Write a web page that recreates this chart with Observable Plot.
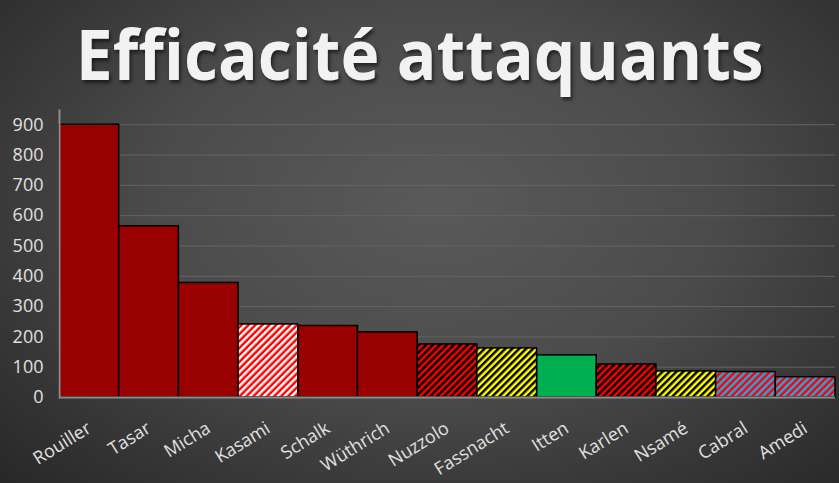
<!DOCTYPE html>
<html><head><meta charset="utf-8">
<script src="https://cdn.jsdelivr.net/npm/d3@7"></script>
<script src="https://cdn.jsdelivr.net/npm/@observablehq/plot@0.6"></script>
<style>
html,body{margin:0;padding:0;background:#2a2a2a;}
#wrap{position:relative;width:839px;height:483px;overflow:hidden;
  background:radial-gradient(ellipse 75% 85% at 52% 42%, #5a5a5a 0%, #4b4b4b 45%, #363636 75%, #262626 100%);
  font-family:"Open Sans",sans-serif;}
#title{position:absolute;left:0;top:11px;width:839px;text-align:center;white-space:nowrap;
  font-family:"Open Sans",sans-serif;font-weight:700;font-size:70px;line-height:1.2;color:#f2f2f2;
  text-shadow:2px 3px 4px rgba(0,0,0,0.55);}
#title span{display:inline-block;transform-origin:50% 50%;}
#chart{position:absolute;left:0;top:0;}
</style></head><body>
<div id="wrap"><div id="chart"></div><div id="title"><span>Efficacité attaquants</span></div></div>
<script>
const players = ["Rouiller","Tasar","Micha","Kasami","Schalk","Wüthrich","Nuzzolo","Fassnacht","Itten","Karlen","Nsamé","Cabral","Amedi"];
const values  = [900, 565, 378, 241, 236, 215, 175, 162, 139, 109, 86, 84, 67];
const fillKinds = ["dark","dark","dark","redWhite","dark","dark","redBlack","yellowBlack","green","redBlack","yellowBlack","redCyan","redCyan"];
const yTicks = [0,100,200,300,400,500,600,700,800,900];

const fillMap = {
  dark: "#990000",
  green: "#00b050",
  redWhite: "url(#pRedWhite)",
  redBlack: "url(#pRedBlack)",
  yellowBlack: "url(#pYellowBlack)",
  redCyan: "url(#pRedCyan)"
};

const data = players.map((name, i) => ({name, value: values[i], kind: fillKinds[i]}));

const barMarks = Object.keys(fillMap).map(k =>
  Plot.barY(data.filter(d => d.kind === k), {x: "name", y: "value", fill: fillMap[k], stroke: "#000", strokeWidth: 1.5})
);

const chart = Plot.plot({
  width: 839,
  height: 483,
  marginLeft: 59,
  marginRight: 4,
  marginTop: 110,
  marginBottom: 86,
  style: {background: "transparent", color: "#e0e0e0", fontFamily: "Open Sans", fontSize: "18px"},
  x: {domain: players, padding: 0, round: false, label: null},
  y: {domain: [0, 947], label: null},
  marks: [
    Plot.gridY(yTicks.filter(t => t > 0), {stroke: "#646464", strokeOpacity: 1, strokeWidth: 1}),
    ...barMarks,
    Plot.ruleY([0], {stroke: "#8c8c8c", strokeWidth: 2}),
    Plot.frame({anchor: "left", stroke: "#8c8c8c", strokeWidth: 2}),
    Plot.axisY({ticks: yTicks, tickSize: 0, tickPadding: 16, label: null, fontSize: 18}),
    Plot.axisX({tickSize: 0, tickPadding: 29, tickRotate: -32, label: null, fontSize: 18})
  ]
});

const defs = d3.select(chart).insert("defs", ":first-child");
function stripe(id, bg, fg) {
  const s = 4.9;
  const p = defs.append("pattern").attr("id", id).attr("patternUnits", "userSpaceOnUse")
    .attr("width", s).attr("height", s).attr("patternTransform", "rotate(45)");
  p.append("rect").attr("width", s).attr("height", s).attr("fill", bg);
  p.append("rect").attr("width", s / 2).attr("height", s).attr("fill", fg);
}
stripe("pRedWhite", "#ff0000", "#ffffff");
stripe("pRedBlack", "#ff0000", "#000000");
stripe("pYellowBlack", "#ffff00", "#000000");
stripe("pRedCyan", "#ff0000", "#1fa8e6");

document.getElementById("chart").appendChild(chart);

const span = document.querySelector("#title span");
const w = span.getBoundingClientRect().width;
span.style.transform = `scaleX(${688 / w})`;
</script>
</body></html>
